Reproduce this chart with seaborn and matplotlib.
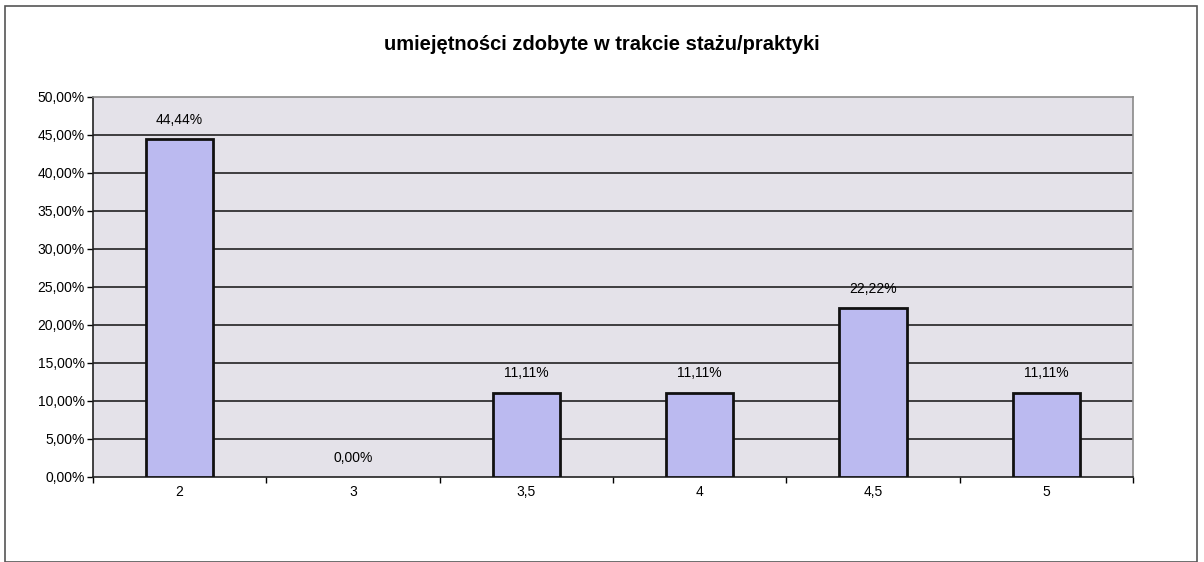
import matplotlib
matplotlib.use("Agg")
import matplotlib.pyplot as plt
import seaborn as sns
import pandas as pd
from matplotlib.patches import Rectangle

categories = ["2", "3", "3,5", "4", "4,5", "5"]
values = [44.44, 0.0, 11.11, 11.11, 22.22, 11.11]
yticks = [0, 5, 10, 15, 20, 25, 30, 35, 40, 45, 50]
title = "umiejętności zdobyte w trakcie stażu/praktyki"

df = pd.DataFrame({"cat": categories, "val": values})

sns.set_style("white")
plt.rcParams["font.family"] = ["Liberation Sans", "DejaVu Sans"]
plt.rcParams["text.color"] = "black"
plt.rcParams["xtick.color"] = "black"
plt.rcParams["ytick.color"] = "black"

fig = plt.figure(figsize=(12.04, 5.62), dpi=100)
ax = fig.add_axes([93/1204, 1-477/562, 1040/1204, 380/562])
ax.set_facecolor("#e4e2e9")

sns.barplot(data=df, x="cat", y="val", ax=ax, color="#bbbaf0", saturation=1,
            width=0.39, edgecolor="#111111", linewidth=2, zorder=3)
for p, v in zip(ax.patches, values):
    if v == 0:
        p.set_linewidth(0)

ax.set_ylim(0, 50)
ax.set_yticks(yticks)
ax.set_yticklabels([f"{v:.2f}%".replace(".", ",") for v in yticks], fontsize=10)
ax.tick_params(axis="x", labelsize=10, length=4, width=1, direction="out", pad=6)
ax.tick_params(axis="y", length=4, width=1, direction="out", pad=2, left=True)
ax.set_xticks([i + 0.5 for i in range(-1, len(categories))], minor=True)
ax.tick_params(axis="x", which="major", length=0, bottom=False)
ax.tick_params(axis="x", which="minor", length=4, width=1, bottom=True)
ax.set_xlim(-0.5, len(categories) - 0.5)
ax.set_xlabel("")
ax.set_ylabel("")

for y in yticks[1:-1]:
    ax.axhline(y, color="#111111", lw=1.1, zorder=1)

for s in ["top", "right"]:
    ax.spines[s].set_color("#8a8a8a")
    ax.spines[s].set_linewidth(1.2)
for s in ["left", "bottom"]:
    ax.spines[s].set_color("#222222")
    ax.spines[s].set_linewidth(1.2)

for i, v in enumerate(values):
    ax.annotate(f"{v:.2f}%".replace(".", ","), (i, v), xytext=(0, 9),
                textcoords="offset points", ha="center", va="bottom",
                fontsize=10, zorder=5)

fig.text(0.5, 1 - 45/562, title, ha="center", va="center",
         fontsize=14.5, fontweight="bold")

fig.patches.append(Rectangle((5/1204, 0), 1192/1204, 1 - 6/562, transform=fig.transFigure,
                             fill=False, edgecolor="#555555", lw=1.2))

fig.savefig("out.png", dpi=100)
